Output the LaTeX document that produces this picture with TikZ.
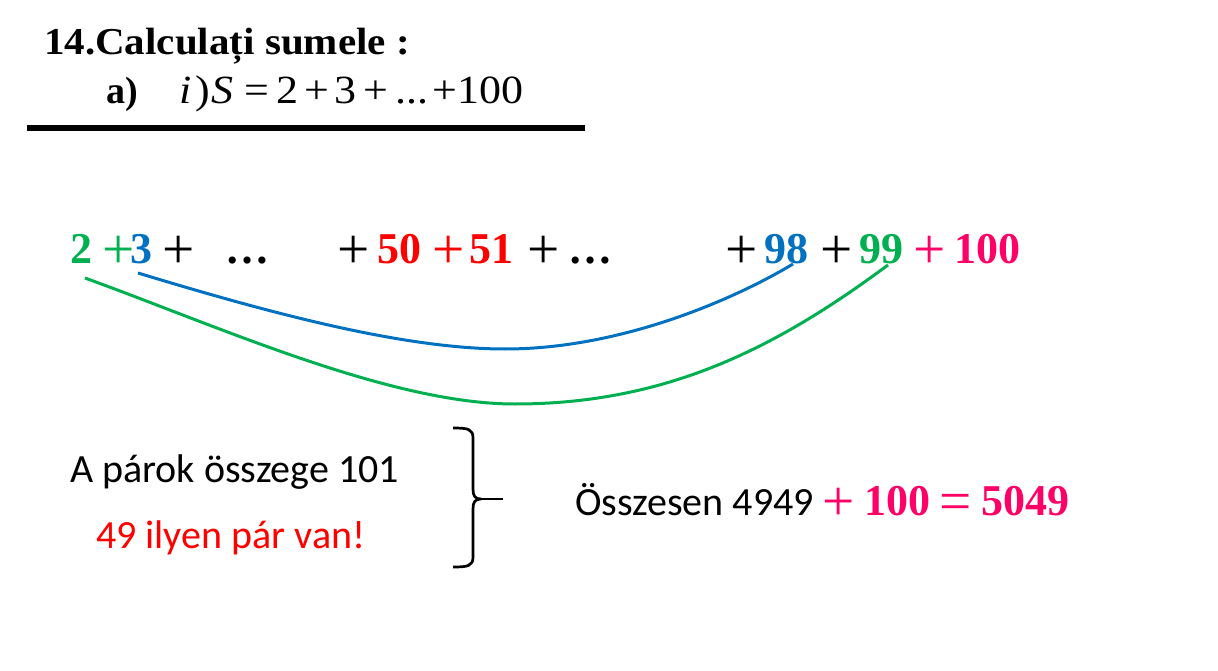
\documentclass[tikz,border=0pt]{standalone}
\usepackage{fontspec}
\setmainfont{Liberation Serif}
\newfontfamily\calfont{Carlito}
\definecolor{cgreen}{HTML}{00B050}
\definecolor{cblue}{HTML}{0070C0}
\definecolor{cred}{HTML}{FF0000}
\definecolor{cpink}{HTML}{FF0066}
\newcommand{\wide}[1]{\scalebox{1.1}[1]{#1}}
\newcommand{\bigsym}[1]{{\mdseries\fontsize{44}{48}\selectfont\makebox[26pt][l]{\raisebox{-5pt}{\scalebox{1.3}{#1}}}}}
\tikzset{
  txt/.style={anchor=base west, inner sep=0pt, outer sep=0pt},
  row/.style={txt, font=\fontsize{44}{48}\selectfont\bfseries},
  frm/.style={txt, font=\fontsize{40}{44}\selectfont},
  hu/.style={txt, font=\fontsize{40}{44}\selectfont\calfont},
  arc/.style={line width=3pt}
}
\begin{document}
\begin{tikzpicture}[x=1pt,y=-1pt]
\useasboundingbox (0,0) rectangle (1218,671);
% title
\node[txt, font=\fontsize{38}{40}\selectfont\bfseries] (title) at (44,55) {\scalebox{1.08}[1]{14.Calculați sumele :}};
\node[txt, font=\fontsize{38}{40}\selectfont\bfseries] (parta) at (106,104) {a)};
\node[frm] (fi) at (179,104) {\wide{\itshape i}};
\node[frm] (fp) at (195,104) {\wide{)}};
\node[frm] (fS) at (211,104) {\wide{\itshape S}};
\node[frm] (feq) at (244,104) {\wide{=}};
\node[frm] (f2) at (276,104) {\wide{2}};
\node[frm] (fa) at (304,104) {\wide{+}};
\node[frm] (f3) at (334,104) {\wide{3}};
\node[frm] (fb) at (363,104) {\wide{+}};
\node[frm] (fd) at (395,104) {\wide{...}};
\node[frm] (fc) at (432,104) {\wide{+}};
\node[frm] (f100) at (457,104) {\wide{100}};
\draw[line width=6pt] (27,128) coordinate (r1) -- (585,128) coordinate (r2);
% row of numbers
\node[row, text=cgreen] (n2) at (70,263) {2};
\node[row, text=cgreen] (p1) at (102,263) {\bigsym{+}};
\node[row, text=cblue] (n3) at (130,263) {3};
\node[row] (p2) at (162,263) {\bigsym{+}};
\node[row] (d1) at (225,263) {…};
\node[row] (p3) at (337,263) {\bigsym{+}};
\node[row, text=cred] (n50) at (377,263) {50};
\node[row, text=cred] (p4) at (432,263) {\bigsym{+}};
\node[row, text=cred] (n51) at (469,263) {51};
\node[row] (p5) at (527,263) {\bigsym{+}};
\node[row] (d2) at (568,263) {…};
\node[row] (p6) at (725,263) {\bigsym{+}};
\node[row, text=cblue] (n98) at (764,263) {98};
\node[row] (p7) at (820,263) {\bigsym{+}};
\node[row, text=cgreen] (n99) at (859,263) {99};
\node[row, text=cpink] (p8) at (913,263) {\bigsym{+}};
\node[row, text=cpink] (n100) at (954,263) {100};
% arcs
\coordinate (b0) at (138,273);
\coordinate (bm) at (505,349);
\coordinate (b1) at (793,264);
\draw[arc, cblue] (b0) .. controls (260,310) and (400,349) .. (bm)
  .. controls (620,349) and (733,300) .. (b1);
\coordinate (g0) at (85,278);
\coordinate (gm) at (515,404);
\coordinate (g1) at (888,265);
\draw[arc, cgreen] (g0) .. controls (220,327) and (390,404) .. (gm)
  .. controls (670,404) and (780,345) .. (g1);
% texts
\node[hu] (pairs) at (70,482) {A párok összege 101};
\node[hu, text=cred] (count) at (96,548) {49 ilyen pár van!};
% brace
\draw[line width=2.7pt, line cap=butt, line join=round]
  (453,428) .. controls (468,428) and (473,429) .. (473,438)
  -- (473,489) .. controls (473,496) and (475,499) .. (481,499)
  .. controls (475,499) and (473,502) .. (473,509)
  -- (473,557) .. controls (473,566) and (468,567) .. (453,567);
\coordinate (tip) at (478,499);
\coordinate (tipend) at (503,499);
\draw[line width=2.7pt] (tip) -- (tipend);
\node[hu] (total) at (575,515) {Összesen 4949};
\node[row, text=cpink] (rp) at (822,515) {\bigsym{+}};
\node[row, text=cpink] (r100) at (864,515) {100};
\node[row, text=cpink] (req) at (939,515) {\bigsym{=}};
\node[row, text=cpink] (r5049) at (981,515) {5049};
\end{tikzpicture}
\end{document}
